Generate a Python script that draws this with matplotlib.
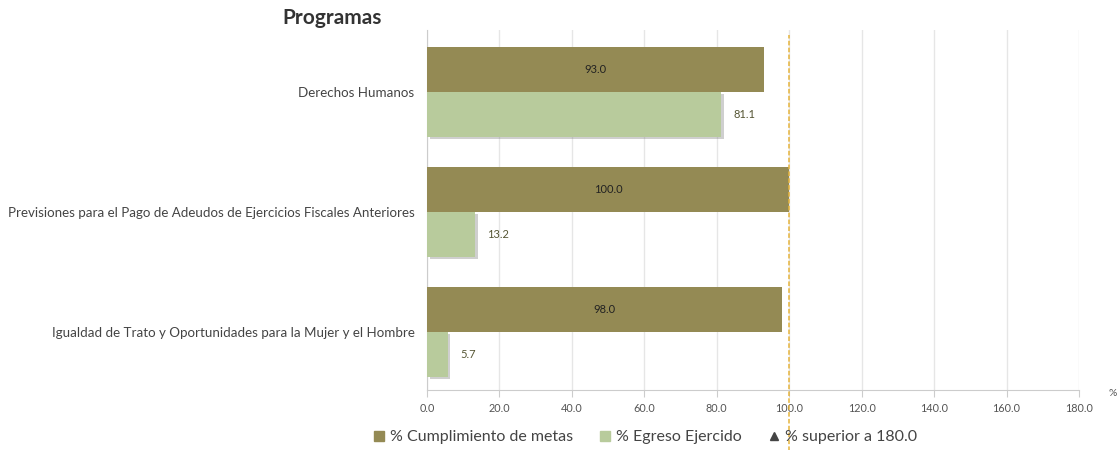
import matplotlib.pyplot as plt
import matplotlib.patheffects as pe
from matplotlib.lines import Line2D

# datos
programas = ['Derechos Humanos',
             'Previsiones para el Pago de Adeudos de Ejercicios Fiscales Anteriores',
             'Igualdad de Trato y Oportunidades para la Mujer y el Hombre']
cumplimiento = [93.0, 100.0, 98.0]
egreso = [81.1, 13.2, 5.7]
xticks = [0, 20, 40, 60, 80, 100, 120, 140, 160, 180]

c_dark = '#948a54'
c_light = '#b8cb9c'
c_line = '#e6b43c'

plt.rcParams['font.family'] = ['Lato', 'DejaVu Sans']

fig = plt.figure(figsize=(11.2, 4.5), dpi=100)
ax = fig.add_axes([427/1120, 60/450, 652/1120, 360/450])

h = 0.375
pos = [i + 0.515 for i in range(len(programas))]
b1 = ax.barh([p - h/2 for p in pos], cumplimiento, height=h, color=c_dark, zorder=3)
b2 = ax.barh([p + h/2 for p in pos], egreso, height=h, color=c_light, zorder=3)
for b in b2:
    b.set_path_effects([pe.SimplePatchShadow(offset=(2, -1.5), shadow_rgbFace='#777777', alpha=0.35),
                        pe.Normal()])

for p, v in zip(pos, cumplimiento):
    ax.text(v/2, p - h/2, f'{v:.1f}', ha='center', va='center', fontsize=8, color='#222222', zorder=4)
for p, v in zip(pos, egreso):
    ax.text(v + 3.5, p + h/2, f'{v:.1f}', ha='left', va='center', fontsize=8, color='#555533', zorder=4)

ax.set_xlim(0, 180)
ax.set_ylim(3, 0)
ax.set_yticks(pos)
ax.set_yticklabels(programas, fontsize=9.6, color='#444444')
ax.set_xticks(xticks)
ax.set_xticklabels([f'{t:.1f}' for t in xticks], fontsize=7.8, color='#555555')
ax.tick_params(axis='y', length=0, pad=9)
ax.tick_params(axis='x', length=5, color='#cccccc', pad=4)
ax.grid(axis='x', color='#e6e6e6', linewidth=1, zorder=0)
for s in ['top', 'right']:
    ax.spines[s].set_visible(False)
ax.spines['left'].set_color('#cccccc')
ax.spines['bottom'].set_color('#cccccc')

ax.axvline(100, ymin=-0.17, ymax=0.985, color=c_line, linestyle=(0, (3, 1.5)), linewidth=1.1,
           clip_on=False, zorder=5)

fig.text(1113/1120, 1 - 394/450, '%', fontsize=7.5, color='#555555', ha='center', va='center')
fig.text(282/1120, 1 - 18/450, 'Programas', fontsize=15, fontweight='bold', color='#333333', va='center')

handles = [Line2D([], [], marker='s', linestyle='none', color=c_dark, markersize=7),
           Line2D([], [], marker='s', linestyle='none', color=c_light, markersize=7),
           Line2D([], [], marker='^', linestyle='none', color='#444444', markersize=6)]
labels = ['% Cumplimiento de metas', '% Egreso Ejercido', '% superior a 180.0']
fig.legend(handles, labels, loc='center', bbox_to_anchor=(640/1120, 1 - 437/450), ncol=3,
           frameon=False, fontsize=11.5, handletextpad=-0.3, columnspacing=1.0, labelcolor='#444444')

plt.savefig('out.png', dpi=100)
